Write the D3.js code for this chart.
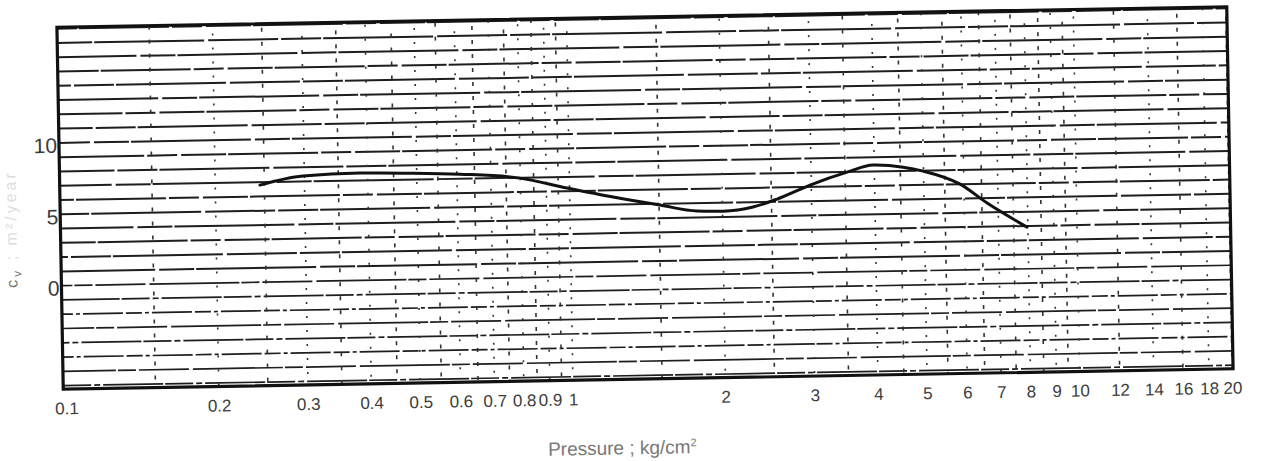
<!DOCTYPE html>
<html>
<head>
<meta charset="utf-8">
<title>cv vs pressure</title>
<script src="https://d3js.org/d3.v7.min.js"></script>
<style>
  body { margin: 0; background: #fff; }
  svg { display: block; }
  .tick text { font-family: "Liberation Sans", Arial, sans-serif; fill: #3c3c3c; }
</style>
</head>
<body>
<div id="viz"></div>
<script>
// curve (pressure in kg/cm2, cv)
const pressure = [0.245, 0.298, 0.386, 0.491, 0.608, 0.799, 0.989, 1.218, 1.507, 1.781,
                  2.005, 2.298, 2.566, 2.983, 3.534, 3.98, 4.56, 4.99, 5.90, 6.66, 7.97];
const cv = [6.80, 7.38, 7.52, 7.45, 7.32, 6.97, 6.22, 5.53, 4.91, 4.45,
            4.41, 4.66, 5.19, 6.13, 6.99, 7.45, 7.27, 6.97, 6.01, 4.65, 2.92];

const xTicks = [0.1, 0.2, 0.3, 0.4, 0.5, 0.6, 0.7, 0.8, 0.9, 1, 2, 3, 4, 5, 6, 7, 8, 9, 10, 12, 14, 16, 18, 20];
const yTicks = [0, 5, 10];

// log paper rulings
const vGrid = [].concat(
  d3.range(3, 21).map(d => d * 0.05),
  d3.range(3, 21).map(d => d * 0.5),
  d3.range(6, 11).map(d => d * 2)
);
const hGrid = d3.range(-7, 19);

const W = 1263, H = 461;
const pLeft = 60, pRight = 1230, pTop = 17, pBottom = 379;

const svg = d3.select("#viz").append("svg")
  .attr("width", W).attr("height", H);

// the scan is tilted about one degree
const g = svg.append("g").attr("transform", "rotate(-1, 645, 198)");

const x = d3.scaleLog().domain([0.1, 20]).range([63, 1229]);
const y = d3.scaleLinear().domain([-7.25, 18.1]).range([pBottom, pTop]);

const patterns = ["70,3,40,2,110,4", "45,2,90,3,30,4", "120,4,35,2", "28,3,6,3,60,2",
                  "90,2,18,3,50,4", "16,3,4,3,40,3"];

g.selectAll("line.h").data(hGrid).enter().append("line")
  .attr("class", "h")
  .attr("x1", pLeft).attr("x2", pRight)
  .attr("y1", d => y(d)).attr("y2", d => y(d))
  .attr("stroke", "#1e1e1e")
  .attr("stroke-width", d => d < 1 ? 1.7 : 2)
  .attr("stroke-dasharray", (d, i) => d < 1 ? patterns[3 + (i % 3)] : patterns[i % 3])
  .attr("stroke-dashoffset", (d, i) => (i * 37) % 90);

g.selectAll("line.v").data(vGrid).enter().append("line")
  .attr("class", "v")
  .attr("x1", d => x(d)).attr("x2", d => x(d))
  .attr("y1", pTop).attr("y2", pBottom)
  .attr("stroke", "#333")
  .attr("stroke-width", 1.6)
  .attr("stroke-dasharray", (d, i) => i % 2 ? "2,12" : "4,10")
  .attr("stroke-dashoffset", (d, i) => (i * 5) % 14);

g.append("rect")
  .attr("x", pLeft).attr("y", pTop)
  .attr("width", pRight - pLeft).attr("height", pBottom - pTop)
  .attr("fill", "none")
  .attr("stroke", "#111")
  .attr("stroke-width", 3.2);

const pts = pressure.map((p, i) => ({p: p, c: cv[i]}));
const line = d3.line()
  .x(d => x(d.p))
  .y(d => y(d.c))
  .curve(d3.curveMonotoneX);

g.append("path")
  .datum(pts)
  .attr("d", line)
  .attr("fill", "none")
  .attr("stroke", "#111")
  .attr("stroke-width", 3)
  .attr("stroke-linecap", "round");

const xAxis = g.append("g")
  .attr("transform", `translate(0,${pBottom + 13})`)
  .call(d3.axisBottom(x).tickValues(xTicks).tickSize(0).tickPadding(0)
    .tickFormat(d => String(d)));
xAxis.select(".domain").remove();
xAxis.selectAll("text").style("font-size", "17px");

const yAxis = g.append("g")
  .attr("transform", `translate(${pLeft - 2},0)`)
  .call(d3.axisLeft(y).tickValues(yTicks).tickSize(0).tickPadding(0));
yAxis.select(".domain").remove();
yAxis.selectAll("text").style("font-size", "21px").attr("dy", "0.45em");

g.append("text")
  .attr("x", 618).attr("y", 454)
  .attr("text-anchor", "middle")
  .style("font-family", "Liberation Sans, Arial, sans-serif")
  .style("font-size", "19px")
  .style("fill", "#777")
  .html("Pressure ; kg/cm<tspan dy='-7' font-size='11'>2</tspan>");

const yl = g.append("text")
  .attr("transform", "translate(16,218) rotate(-90)")
  .attr("text-anchor", "middle")
  .style("font-family", "Liberation Sans, Arial, sans-serif")
  .style("font-size", "16px")
  .style("letter-spacing", "3px");
yl.append("tspan").style("fill", "#777").text("c");
yl.append("tspan").style("fill", "#777").attr("dy", 4).style("font-size", "12px").text("v");
yl.append("tspan").style("fill", "#ddd").attr("dy", -4).text(" ; m²/year");
</script>
</body>
</html>
